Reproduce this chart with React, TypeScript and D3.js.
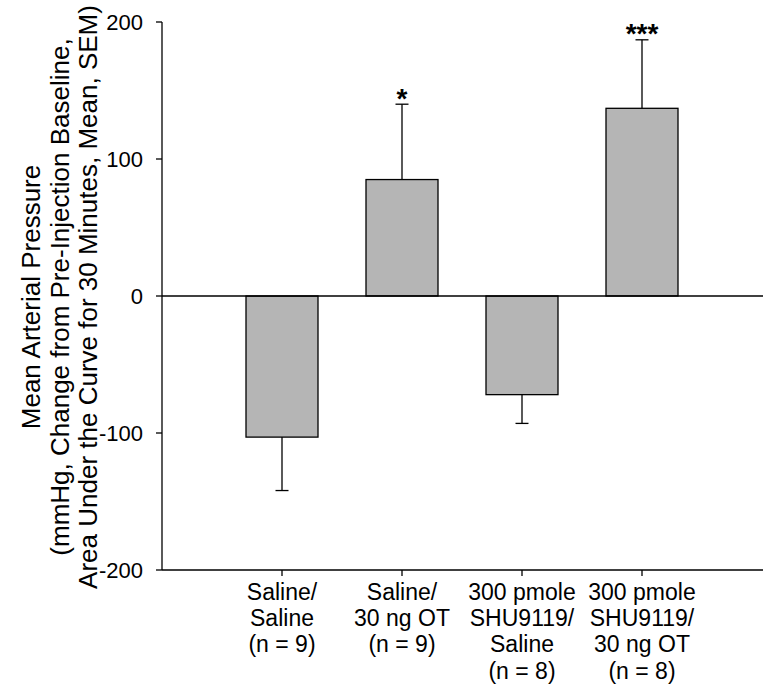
import React from "react";
import * as d3 from "d3";

const categories = ["SS", "SOT", "SHUS", "SHUOT"];
const categoryLabels: string[][] = [
  ["Saline/", "Saline", "(n = 9)"],
  ["Saline/", "30 ng OT", "(n = 9)"],
  ["300 pmole", "SHU9119/", "Saline", "(n = 8)"],
  ["300 pmole", "SHU9119/", "30 ng OT", "(n = 8)"],
];
const means = [-103, 85, -72, 137];
const sems = [39, 55, 21, 50];
const significance = ["", "*", "", "***"];
const yTicks = [-200, -100, 0, 100, 200];
const yTitleLines = [
  "Mean Arterial Pressure",
  "(mmHg, Change from Pre-Injection Baseline,",
  "Area Under the Curve for 30 Minutes, Mean, SEM)",
];

const W = 763;
const H = 685;
const FONT = "'Liberation Sans', Arial, Helvetica, sans-serif";

export default function App() {
  const x = d3
    .scaleBand<string>()
    .domain(categories)
    .range([162, 762])
    .paddingInner(0.4)
    .paddingOuter(0.7);
  const y = d3.scaleLinear().domain([-200, 200]).range([570, 22]);
  const bw = x.bandwidth();
  const capW = 13;
  const x0 = 162;

  return (
    <svg
      width={W}
      height={H}
      style={{ position: "absolute", left: 0, top: 0, background: "#fff" }}
      fontFamily={FONT}
    >
      {categories.map((c, i) => {
        const v = means[i];
        const top = y(Math.max(0, v));
        const bot = y(Math.min(0, v));
        const cx = (x(c) as number) + bw / 2;
        const end = v + Math.sign(v) * sems[i];
        return (
          <g key={c}>
            <line x1={cx} x2={cx} y1={y(v)} y2={y(end)} stroke="#000" strokeWidth={1.3} />
            <line x1={cx - capW / 2} x2={cx + capW / 2} y1={y(end)} y2={y(end)} stroke="#000" strokeWidth={1.3} />
            <rect
              x={x(c)}
              y={top}
              width={bw}
              height={bot - top}
              fill="#b5b5b5"
              stroke="#000"
              strokeWidth={1.3}
            />
            {significance[i] && (
              <text
                x={cx}
                y={y(end) + 3.5}
                textAnchor="middle"
                fontSize={28}
                fontWeight="bold"
              >
                {significance[i]}
              </text>
            )}
          </g>
        );
      })}
      <line x1={x0} x2={763} y1={y(0)} y2={y(0)} stroke="#000" strokeWidth={1.3} />
      <line x1={x0} x2={x0} y1={y(200)} y2={y(-200)} stroke="#000" strokeWidth={1.3} />
      {yTicks.map((t) => (
        <g key={t}>
          <line x1={x0 - 6} x2={x0} y1={y(t)} y2={y(t)} stroke="#000" strokeWidth={1.3} />
          <text x={143} y={y(t)} dy="0.36em" textAnchor="end" fontSize={22}>
            {t}
          </text>
        </g>
      ))}
      <line x1={x0} x2={763} y1={y(-200)} y2={y(-200)} stroke="#000" strokeWidth={1.3} />
      {categories.map((c, i) => {
        const cx = (x(c) as number) + bw / 2;
        return (
          <g key={c}>
            <line x1={cx} x2={cx} y1={y(-200)} y2={y(-200) + 6} stroke="#000" strokeWidth={1.3} />
            <text textAnchor="middle" fontSize={23}>
              {categoryLabels[i].map((l, j) => (
                <tspan key={j} x={cx} y={600 + j * 26.2}>
                  {l}
                </tspan>
              ))}
            </text>
          </g>
        );
      })}
      {yTitleLines.map((l, j) => (
        <text
          key={j}
          transform={`translate(${40 + j * 28.5},297) rotate(-90)`}
          textAnchor="middle"
          fontSize={26}
        >
          {l}
        </text>
      ))}
    </svg>
  );
}
